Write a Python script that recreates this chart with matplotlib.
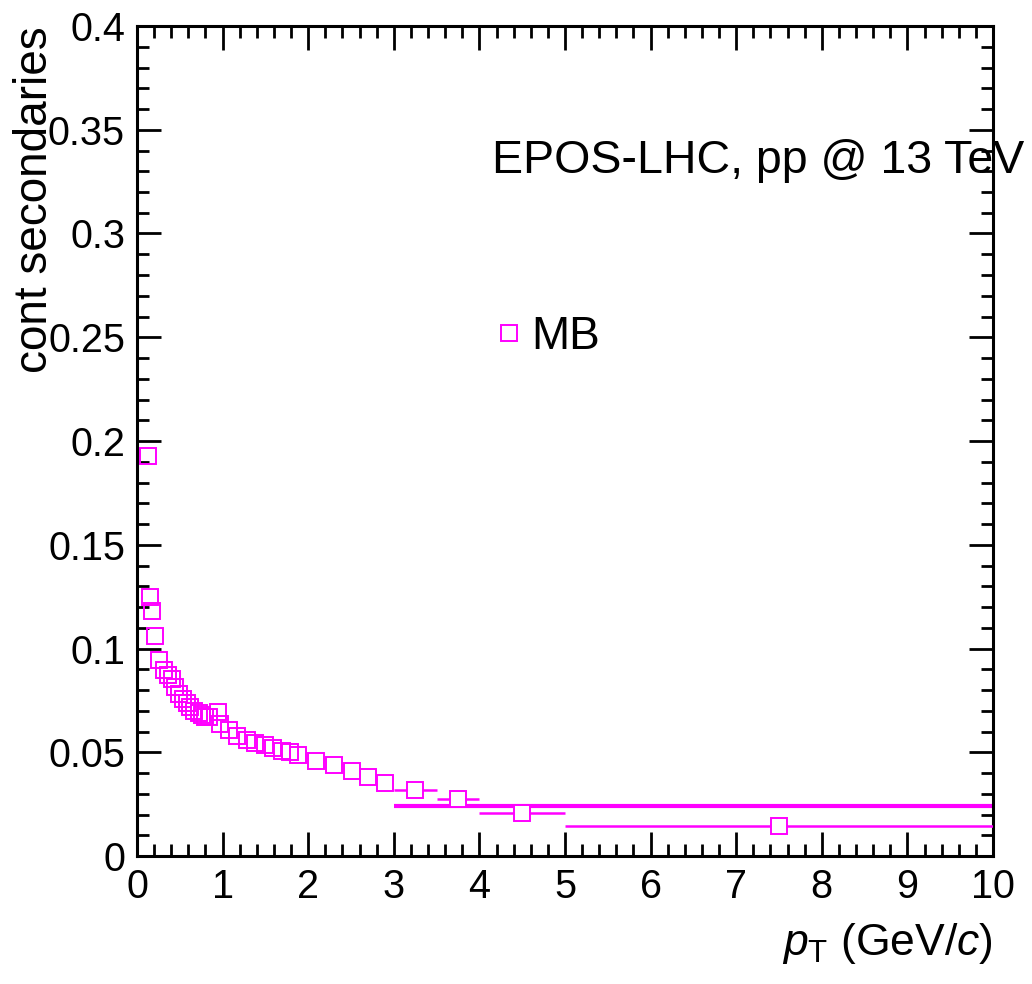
import matplotlib.pyplot as plt
from matplotlib.ticker import MultipleLocator, FormatStrFormatter

# fraction of secondaries vs pT (EPOS-LHC, MB)
pt = [0.13, 0.155, 0.175, 0.215, 0.26, 0.32, 0.365, 0.405, 0.445, 0.49,
      0.54, 0.58, 0.62, 0.67, 0.72, 0.76, 0.80, 0.84, 0.95, 0.97,
      1.07, 1.17, 1.28, 1.38, 1.49, 1.59, 1.69, 1.79, 1.88,
      2.09, 2.30, 2.51, 2.70, 2.90]
frac = [0.193, 0.1247, 0.118, 0.1061, 0.0945, 0.0896, 0.0872, 0.0851, 0.0816, 0.0783,
        0.0759, 0.0739, 0.0719, 0.0700, 0.0687, 0.0680, 0.0671, 0.0668, 0.0692, 0.0635,
        0.0605, 0.0580, 0.0560, 0.0544, 0.0535, 0.0520, 0.0508, 0.0502, 0.0489,
        0.0460, 0.0439, 0.0409, 0.0380, 0.0350]

# wide bins at high pT (drawn with x error bars)
pt_wide = [3.25, 3.75, 4.5, 7.5]
pt_wide_err = [0.25, 0.25, 0.5, 2.5]
frac_wide = [0.0318, 0.0275, 0.0209, 0.0144]

# extra single-bin histogram 3-10 GeV/c
band_lo, band_hi, band_val = 3.0, 10.0, 0.0241

col = '#ff00ff'

plt.rcParams['font.family'] = ['Liberation Sans', 'DejaVu Sans']
plt.rcParams['mathtext.fontset'] = 'custom'
plt.rcParams['mathtext.rm'] = 'Liberation Sans'
plt.rcParams['mathtext.it'] = 'Liberation Sans:italic'

fig = plt.figure(figsize=(10.32, 9.84), dpi=100)
ax = fig.add_axes([137 / 1032, 128 / 984, 856 / 1032, 830 / 984])

ax.hlines(band_val, band_lo, band_hi, color=col, lw=3, zorder=2)

ax.errorbar(pt_wide, frac_wide, xerr=pt_wide_err, fmt='s', color=col, ms=11.5,
            mfc='white', mec=col, mew=1.4, elinewidth=1.8, capsize=0, zorder=3)
ax.plot(pt, frac, 's', ms=11.5, mfc='none', mec=col, mew=1.4, zorder=3, label='MB')

ax.set_xlim(0, 10)
ax.set_ylim(0, 0.4)
ax.xaxis.set_major_locator(MultipleLocator(1))
ax.xaxis.set_minor_locator(MultipleLocator(0.2))
ax.yaxis.set_major_locator(MultipleLocator(0.05))
ax.yaxis.set_minor_locator(MultipleLocator(0.01))
ax.yaxis.set_major_formatter(FormatStrFormatter('%g'))
ax.tick_params(which='both', direction='in', top=True, right=True,
               labelsize=28.5, width=2, pad=8.6)
ax.tick_params(which='major', length=17)
ax.tick_params(which='minor', length=8.5)
for s in ax.spines.values():
    s.set_linewidth(2.2)

ax.set_xlabel(r'$p_{\mathrm{T}}$ (GeV/$c$)', fontsize=32, ha='right', va='top')
ax.xaxis.set_label_coords(1.0, -0.078)
fig.text(35 / 1032, 1 - 26 / 984, 'cont secondaries', rotation=90,
         ha='center', va='top', fontsize=33)

ax.text(4.15, 0.329, 'EPOS-LHC, pp @ 13 TeV', fontsize=33.5, va='baseline',
        clip_on=False)

ax.legend(loc='center left', bbox_to_anchor=(0.418, 0.625), frameon=False,
          fontsize=33, handlelength=0.6, handletextpad=0.2, borderpad=0,
          borderaxespad=0, markerscale=1.0)

fig.savefig('out.png', dpi=100)
